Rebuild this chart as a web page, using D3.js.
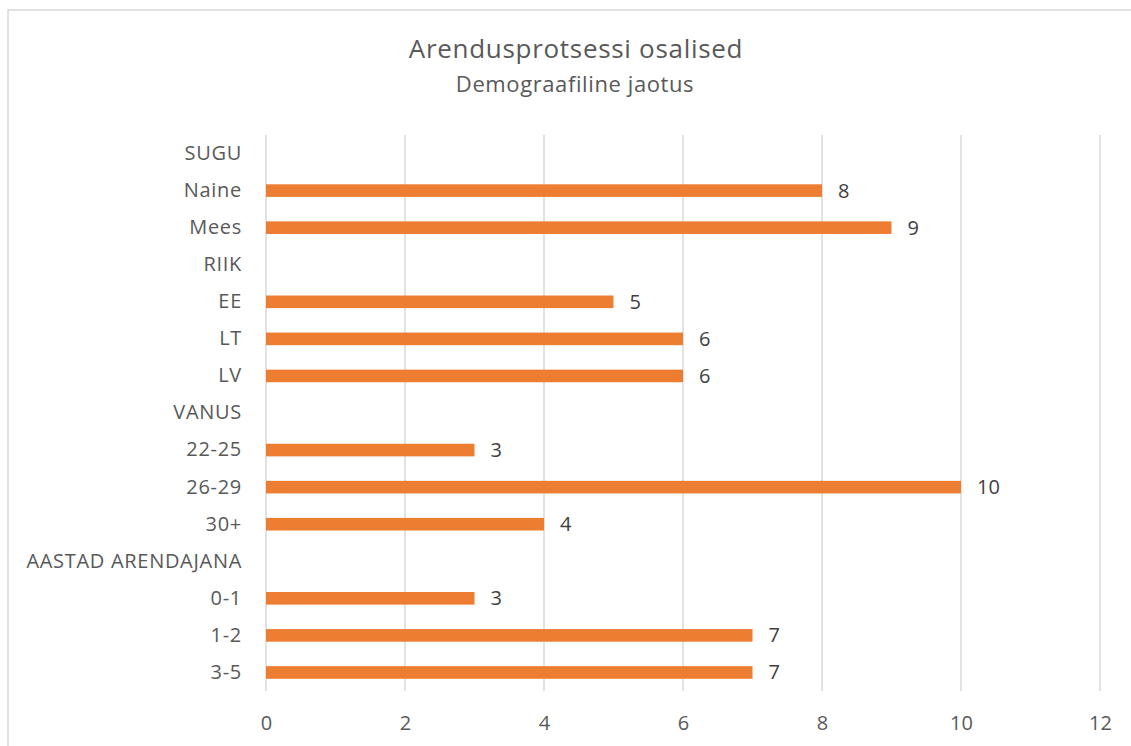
<!DOCTYPE html>
<html>
<head>
<meta charset="utf-8">
<script src="https://cdn.jsdelivr.net/npm/d3@7"></script>
<style>
  body { margin: 0; background: #fff; }
  svg text { font-family: "Open Sans", Lato, sans-serif; }
</style>
</head>
<body>
<div id="chart"></div>
<script>
// categories top to bottom, null = group heading with no bar
const categories = ["SUGU", "Naine", "Mees", "RIIK", "EE", "LT", "LV", "VANUS",
  "22-25", "26-29", "30+", "AASTAD ARENDAJANA", "0-1", "1-2", "3-5"];
const values = [null, 8, 9, null, 5, 6, 6, null, 3, 10, 4, null, 3, 7, 7];
const xTicks = [0, 2, 4, 6, 8, 10, 12];
const title = "Arendusprotsessi osalised";
const subtitle = "Demograafiline jaotus";

const W = 1131, H = 746;
const margin = { top: 135, right: 31, bottom: 55, left: 266 };

const svg = d3.select("#chart").append("svg")
  .attr("width", W)
  .attr("height", H);

// chart border
svg.append("rect")
  .attr("x", 8).attr("y", 10)
  .attr("width", W + 20).attr("height", H + 20)
  .attr("fill", "#fff")
  .attr("stroke", "#d9d9d9")
  .attr("stroke-width", 1.5);

const x = d3.scaleLinear()
  .domain([0, 12])
  .range([margin.left, W - margin.right]);

const y = d3.scaleBand()
  .domain(categories)
  .range([margin.top, H - margin.bottom])
  .paddingInner(0.66)
  .paddingOuter(0.33);

// gridlines
svg.append("g")
  .selectAll("line")
  .data(xTicks)
  .enter().append("line")
  .attr("x1", d => x(d)).attr("x2", d => x(d))
  .attr("y1", margin.top).attr("y2", H - margin.bottom)
  .attr("stroke", "#d9d9d9")
  .attr("stroke-width", 1.5);

// x axis labels
const xAxis = svg.append("g")
  .attr("transform", `translate(0,${H - margin.bottom})`)
  .call(d3.axisBottom(x).tickValues(xTicks).tickSize(0).tickPadding(25));
xAxis.select(".domain").remove();
xAxis.selectAll("text")
  .style("font-size", "20px")
  .attr("fill", "#595959");

// y axis labels
const yAxis = svg.append("g")
  .attr("transform", `translate(${margin.left},0)`)
  .call(d3.axisLeft(y).tickSize(0).tickPadding(24));
yAxis.select(".domain").remove();
yAxis.selectAll("text")
  .style("font-size", "20px")
  .style("letter-spacing", "0.7px")
  .attr("fill", "#595959");

const rows = categories.map((c, i) => ({ cat: c, val: values[i] })).filter(d => d.val !== null);

// bars
svg.append("g")
  .selectAll("rect")
  .data(rows)
  .enter().append("rect")
  .attr("x", x(0))
  .attr("y", d => y(d.cat))
  .attr("width", d => x(d.val) - x(0))
  .attr("height", y.bandwidth())
  .attr("fill", "#ED7D31");

// value labels
svg.append("g")
  .selectAll("text")
  .data(rows)
  .enter().append("text")
  .attr("x", d => x(d.val) + 16)
  .attr("y", d => y(d.cat) + y.bandwidth() / 2)
  .attr("dy", "0.35em")
  .style("font-size", "20px")
  .attr("fill", "#404040")
  .text(d => d.val);

// titles
svg.append("text")
  .attr("x", 576).attr("y", 58)
  .style("text-anchor", "middle")
  .style("font-size", "26px")
  .style("letter-spacing", "0.7px")
  .attr("fill", "#595959")
  .text(title);
svg.append("text")
  .attr("x", 575).attr("y", 92)
  .style("text-anchor", "middle")
  .style("font-size", "22px")
  .style("letter-spacing", "0.6px")
  .attr("fill", "#595959")
  .text(subtitle);
</script>
</body>
</html>
